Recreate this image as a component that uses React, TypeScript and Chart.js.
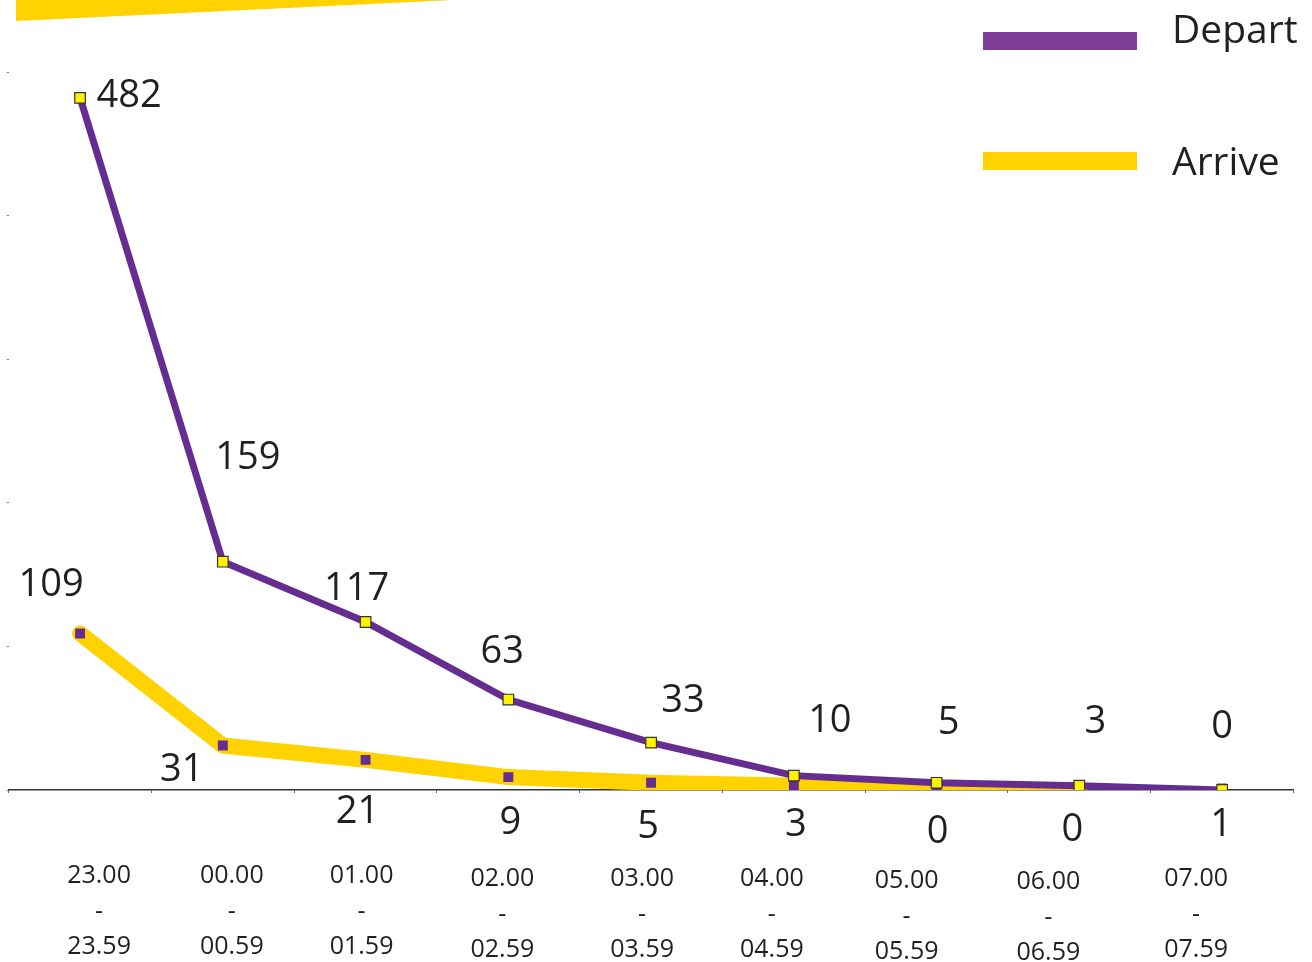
import React, { useEffect, useRef } from "react";
import { Chart, registerables } from "chart.js";

Chart.register(...registerables);

// ---- data ----
const timeStart = ["23.00", "00.00", "01.00", "02.00", "03.00", "04.00", "05.00", "06.00", "07.00"];
const timeEnd = ["23.59", "00.59", "01.59", "02.59", "03.59", "04.59", "05.59", "06.59", "07.59"];
const departValues = [482, 159, 117, 63, 33, 10, 5, 3, 0];
const arriveValues = [109, 31, 21, 9, 5, 3, 0, 0, 1];
const seriesNames = ["Depart", "Arrive"];
const yMin = 0;
const yMax = 500;
const yStep = 100;

// ---- style ----
const PURPLE = "#662D91";
const PURPLE_LEGEND = "#7D3C96";
const YELLOW = "#FFD200";
const POINT_YELLOW = "#FFF200";
const TEXT = "#231F20";
const FONT = "'Open Sans', 'Noto Sans', sans-serif";

// label placement offsets (dx, dy) from each point, in px
const departLabelOffsets = [[49, -4], [25, -106], [-9, -36], [-6, -50], [32, -44], [36, -57], [12, -62], [16, -66], [0, -66]];
const arriveLabelOffsets = [[-29, -51], [-41, 22], [-8, 50], [2, 43], [-3, 42], [2, 37], [1, 39], [-7, 37], [-1, 34]];
const tickLabelOffsets = [[19, 84], [9, 84], [-4, 84], [-6, 87], [-9, 87], [-22, 87], [-30, 89], [-31, 90], [-26, 87]];

const decorPlugin = {
  id: "decor",
  beforeDraw(chart: any) {
    const ctx = chart.ctx;
    ctx.save();
    ctx.fillStyle = YELLOW;
    ctx.beginPath();
    ctx.moveTo(16, 0);
    ctx.lineTo(453, 0);
    ctx.lineTo(16, 21);
    ctx.closePath();
    ctx.fill();
    ctx.restore();
  },
  afterDraw(chart: any) {
    const ctx = chart.ctx;
    const x = chart.scales.x;
    ctx.save();
    // data labels
    const drawLabels = (dsIndex: number, offsets: number[][], size: number) => {
      const meta = chart.getDatasetMeta(dsIndex);
      const values = chart.data.datasets[dsIndex].data;
      ctx.font = `${size}px ${FONT}`;
      ctx.fillStyle = TEXT;
      ctx.textAlign = "center";
      ctx.textBaseline = "alphabetic";
      meta.data.forEach((pt: any, i: number) => {
        const [dx, dy] = offsets[i];
        ctx.fillText(String(values[i]), pt.x + dx, pt.y + dy + size * 0.357);
      });
    };
    drawLabels(0, departLabelOffsets, 38);
    drawLabels(1, arriveLabelOffsets, 38);

    // x tick labels
    const fs = 25;
    ctx.font = `${fs}px ${FONT}`;
    ctx.fillStyle = TEXT;
    ctx.textAlign = "center";
    timeStart.forEach((s, i) => {
      const px = x.getPixelForValue(i) + tickLabelOffsets[i][0];
      const py = x.top + tickLabelOffsets[i][1] + fs * 0.357;
      ctx.fillText(s, px, py);
      ctx.fillText("-", px, py + 36);
      ctx.fillText(timeEnd[i], px, py + 71);
    });

    // legend
    const legendColors = [PURPLE_LEGEND, YELLOW];
    const legendY = [41, 161];
    const legendBaseline = [43, 175];
    ctx.font = `39px ${FONT}`;
    ctx.textAlign = "left";
    seriesNames.forEach((name, i) => {
      ctx.fillStyle = legendColors[i];
      ctx.fillRect(983, legendY[i] - 9, 154, 18);
      ctx.fillStyle = TEXT;
      ctx.fillText(name, 1172, legendBaseline[i]);
    });
    ctx.restore();
  },
};

export default function App() {
  const ref = useRef<HTMLCanvasElement | null>(null);
  useEffect(() => {
    if (!ref.current) return;
    const last = arriveValues.length - 1;
    const chart = new Chart(ref.current, {
      type: "line",
      data: {
        labels: timeStart.map((s, i) => [s, "-", timeEnd[i]]),
        datasets: [
          {
            label: seriesNames[0],
            data: departValues,
            borderColor: PURPLE,
            borderWidth: 7,
            pointStyle: "rect",
            pointRadius: 7.5,
            pointBackgroundColor: POINT_YELLOW,
            pointBorderColor: "#333333",
            pointBorderWidth: 1.2,
            tension: 0,
            borderJoinStyle: "miter",
          },
          {
            label: seriesNames[1],
            data: arriveValues,
            borderColor: YELLOW,
            borderWidth: 16,
            borderCapStyle: "round",
            borderJoinStyle: "round",
            pointStyle: "rect",
            pointRadius: 7,
            pointBackgroundColor: PURPLE,
            pointBorderWidth: 0,
            tension: 0,
            segment: {
              borderColor: (c: any) => (c.p1DataIndex === last ? "rgba(0,0,0,0)" : YELLOW),
            },
          },
        ],
      },
      options: {
        responsive: false,
        animation: false,
        layout: { padding: { left: 6.5, right: 18.5, top: 72, bottom: 0 } },
        plugins: { legend: { display: false }, tooltip: { enabled: false } },
        scales: {
          x: {
            type: "category",
            offset: true,
            ticks: { display: false },
            grid: { drawOnChartArea: false, tickLength: 3, color: "#666", offset: true },
            border: { display: true, color: "#333", width: 1.5 },
            afterFit: (s: any) => {
              s.height = 172;
            },
          },
          y: {
            min: yMin,
            max: yMax,
            ticks: { display: false, stepSize: yStep },
            grid: { drawOnChartArea: false, tickLength: 2, color: "#888" },
            border: { display: false },
            afterFit: (s: any) => {
              s.width = 0;
            },
          },
        },
      },
      plugins: [decorPlugin],
    } as any);
    return () => chart.destroy();
  }, []);
  return (
    <div style={{ position: "absolute", left: 0, top: 0, width: 1312, height: 962, background: "#fff" }}>
      <canvas ref={ref} width={1312} height={962} style={{ display: "block" }} />
    </div>
  );
}
